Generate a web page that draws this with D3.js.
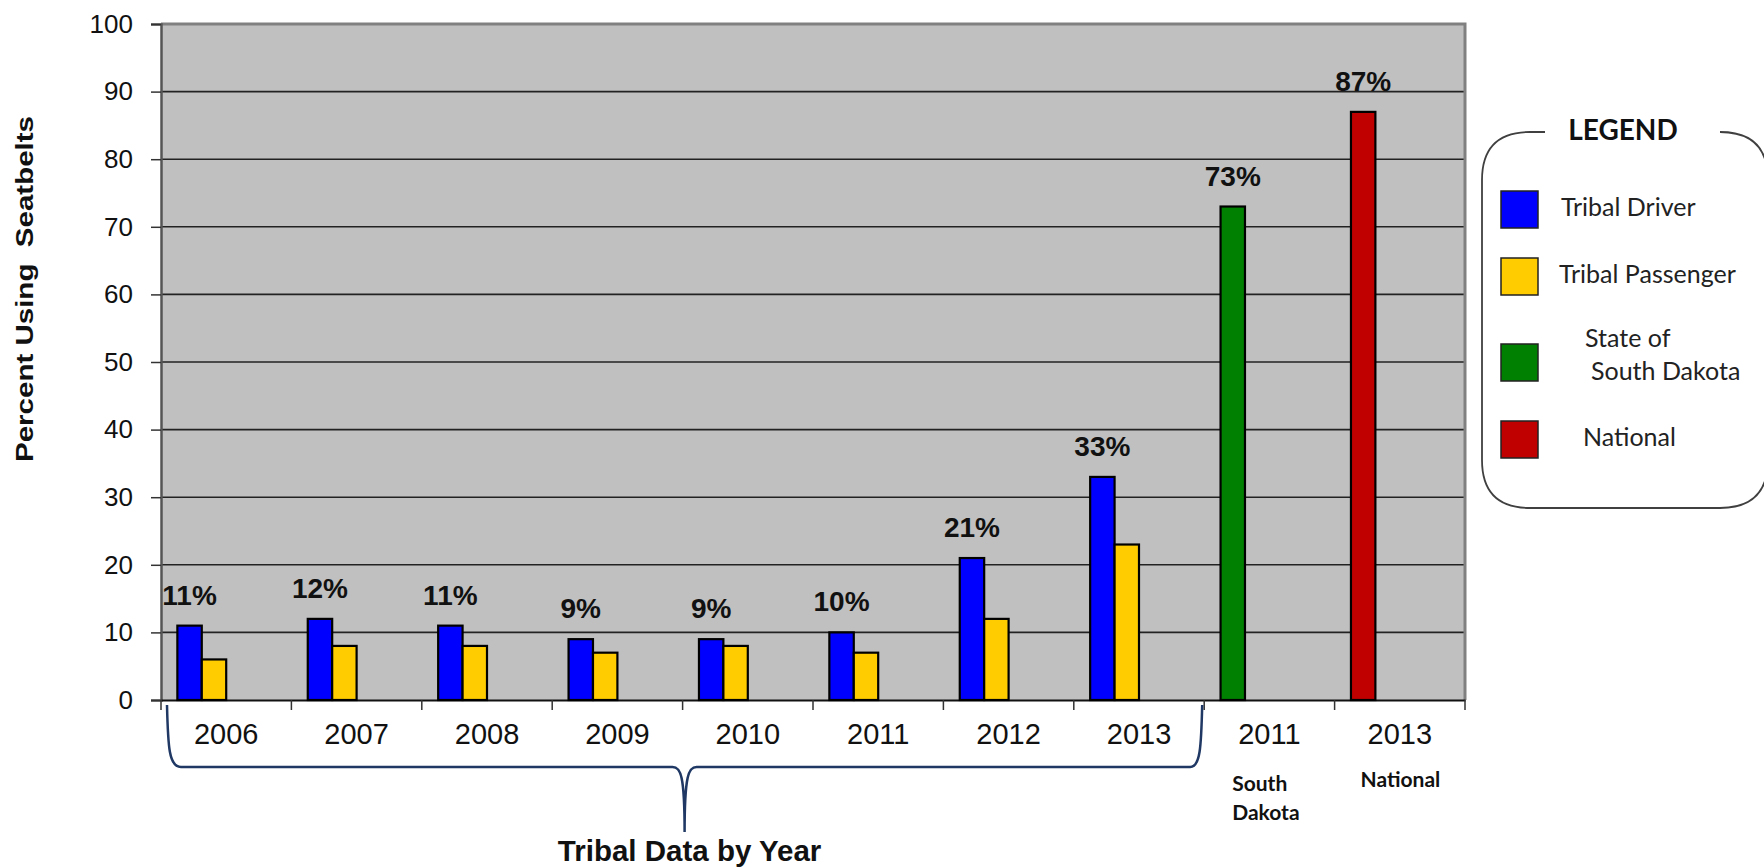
<!DOCTYPE html>
<html>
<head>
<meta charset="utf-8">
<script src="https://cdn.jsdelivr.net/npm/d3@7"></script>
<style>
  body { margin: 0; background: #fff; }
  svg { display: block; }
</style>
</head>
<body>
<div id="chart-container"></div>
<script>
// chart values
const years = ["2006", "2007", "2008", "2009", "2010", "2011", "2012", "2013", "2011", "2013"];
const groupNotes = ["", "", "", "", "", "", "", "", "South|Dakota", "National"];
const tribalDriver = [11, 12, 11, 9, 9, 10, 21, 33, null, null];
const tribalPassenger = [6, 8, 8, 7, 8, 7, 12, 23, null, null];
const stateSouthDakota = [null, null, null, null, null, null, null, null, 73, null];
const national = [null, null, null, null, null, null, null, null, null, 87];
const yTicks = [0, 10, 20, 30, 40, 50, 60, 70, 80, 90, 100];
const legendItems = ["Tribal Driver", "Tribal Passenger", "State of|South Dakota", "National"];
const colors = ["#0000ff", "#ffcc00", "#008000", "#c00000"];

const width = 1764, height = 867;
const margin = {top: 24, left: 161, right: 299, bottom: 167};

const svg = d3.select('#chart-container').append('svg')
    .attr('width', width)
    .attr('height', height);

const xScale = d3.scaleBand()
    .domain(d3.range(years.length))
    .range([margin.left, width - margin.right])
    .padding(0);

// slot inside each category (4 slots like the excel cluster)
const slot = d3.scaleBand()
    .domain(['a', 'b', 'c', 'd'])
    .range([0, xScale.bandwidth()])
    .paddingInner(0)
    .paddingOuter(0.67);

const yScale = d3.scaleLinear()
    .domain([0, 100])
    .range([height - margin.bottom, margin.top]);

const plotL = margin.left, plotR = width - margin.right;
const plotT = margin.top, plotB = height - margin.bottom;

// plot background
svg.append('rect')
    .attr('x', plotL).attr('y', plotT)
    .attr('width', plotR - plotL).attr('height', plotB - plotT)
    .style('fill', '#c0c0c0');

// gridlines
svg.append('g')
    .selectAll('line')
    .data(yTicks.filter(d => d > 0 && d < 100))
    .enter()
    .append('line')
    .attr('x1', plotL).attr('x2', plotR)
    .attr('y1', d => yScale(d)).attr('y2', d => yScale(d))
    .style('stroke', '#222')
    .style('stroke-width', 1.6);

// plot frame (top + right grey)
svg.append('polyline')
    .attr('points', [plotL, plotT, plotR, plotT, plotR, plotB].join(','))
    .style('fill', 'none')
    .style('stroke', '#808080')
    .style('stroke-width', 3);

// y axis
const yAxis = d3.axisLeft(yScale).tickValues(yTicks).tickSize(10).tickPadding(18);
const gy = svg.append('g').attr('transform', `translate(${plotL},0)`).call(yAxis);
gy.select('.domain').style('stroke', '#555').style('stroke-width', 2.5);
gy.selectAll('.tick line').style('stroke', '#333').style('stroke-width', 1.5);
gy.selectAll('.tick text')
    .style('font-family', 'Liberation Sans, Arial, sans-serif')
    .style('font-size', '26px')
    .style('fill', '#111');

// x axis
const xAxis = d3.axisBottom(xScale).tickFormat(i => years[i]).tickSize(0).tickPadding(23);
const gx = svg.append('g').attr('transform', `translate(0,${plotB})`).call(xAxis);
gx.select('.domain').style('stroke', '#111').style('stroke-width', 2);
gx.selectAll('.tick text')
    .style('font-family', 'Liberation Sans, Arial, sans-serif')
    .style('font-size', '29px')
    .style('fill', '#111');

// tick marks at category boundaries
svg.append('g')
    .selectAll('line')
    .data(d3.range(years.length + 1))
    .enter()
    .append('line')
    .attr('x1', i => plotL + i * xScale.step())
    .attr('x2', i => plotL + i * xScale.step())
    .attr('y1', plotB).attr('y2', plotB + 10)
    .style('stroke', '#333')
    .style('stroke-width', 1.5);

// bars
const barSeries = [
    {values: tribalDriver, slot: 'a', color: colors[0], label: true},
    {values: tribalPassenger, slot: 'b', color: colors[1], label: false},
    {values: stateSouthDakota, slot: 'a', color: colors[2], label: true},
    {values: national, slot: 'a', color: colors[3], label: true}
];

const rectangleData = barSeries.flatMap(s =>
    s.values.map((v, i) => ({
        v, i,
        x: xScale(i) + slot(s.slot),
        w: slot.bandwidth(),
        color: s.color,
        label: s.label
    })).filter(d => d.v !== null)
);

const bars = svg.append('g');
bars.selectAll('rect')
    .data(rectangleData)
    .enter()
    .append('rect')
    .attr('x', d => d.x)
    .attr('y', d => yScale(d.v))
    .attr('width', d => d.w)
    .attr('height', d => yScale(0) - yScale(d.v))
    .style('fill', d => d.color)
    .style('stroke', '#000')
    .style('stroke-width', 2.2);

bars.selectAll('text')
    .data(rectangleData.filter(d => d.label))
    .enter()
    .append('text')
    .text(d => d.v + '%')
    .attr('x', d => d.x + d.w / 2)
    .attr('y', d => yScale(d.v) - 21)
    .attr('text-anchor', 'middle')
    .style('font-family', 'Liberation Sans, Arial, sans-serif')
    .style('font-weight', 'bold')
    .style('font-size', '28px')
    .style('fill', '#111');

// notes under last two categories
const notes = svg.append('g');
groupNotes.forEach((n, i) => {
    if (!n) return;
    const lines = n.split('|');
    const x0 = xScale(i) + (lines.length > 1 ? 28 : 26);
    const t = notes.append('text')
        .attr('y', lines.length > 1 ? 791 : 787)
        .style('font-family', 'Lato, "Open Sans", sans-serif')
        .style('font-weight', 'bold')
        .style('font-size', '21px')
        .style('fill', '#111');
    lines.forEach((l, k) => {
        t.append('tspan').attr('x', x0).attr('dy', k === 0 ? 0 : 29).text(l);
    });
});

// brace under the tribal years
const bL = xScale(0) + 6;
const bR = xScale(7) + xScale.bandwidth() - 2;
const bM = (bL + bR) / 2;
const bTop = plotB + 5, bY = 767, bTip = 832;
svg.append('path')
    .attr('d', `M${bL},${bTop} C${bL + 1},${bY - 20} ${bL + 2},${bY} ${bL + 14},${bY}`
        + ` L${bM - 12},${bY} C${bM - 4},${bY} ${bM},${bY + 8} ${bM},${bTip}`
        + ` C${bM},${bY + 8} ${bM + 4},${bY} ${bM + 12},${bY}`
        + ` L${bR - 12},${bY} C${bR - 2},${bY} ${bR - 1},${bY - 20} ${bR},${bTop}`)
    .style('fill', 'none')
    .style('stroke', '#1f3864')
    .style('stroke-width', 2.5);

svg.append('text')
    .text('Tribal Data by Year')
    .attr('x', bM + 5)
    .attr('y', 861)
    .attr('text-anchor', 'middle')
    .style('font-family', 'Liberation Sans, Arial, sans-serif')
    .style('font-weight', 'bold')
    .style('font-size', '29.5px')
    .style('fill', '#111');

// y axis title (stretched along its length, as in the original)
svg.append('text')
    .text('Percent Using  Seatbelts')
    .attr('transform', `translate(33,289) rotate(-90)`)
    .attr('text-anchor', 'middle')
    .attr('textLength', 346)
    .attr('lengthAdjust', 'spacingAndGlyphs')
    .style('white-space', 'pre')
    .style('font-family', 'Liberation Sans, Arial, sans-serif')
    .style('font-weight', 'bold')
    .style('font-size', '23px')
    .style('fill', '#111');

// legend
const lg = svg.append('g');
const boxL = 1482, boxT = 132, boxR = 1768, boxB = 508, rr = 48;
const gapL = 1545, gapR = 1720;
lg.append('path')
    .attr('d', `M${gapL},${boxT} L${boxL + rr},${boxT} Q${boxL},${boxT} ${boxL},${boxT + rr}`
        + ` L${boxL},${boxB - rr} Q${boxL},${boxB} ${boxL + rr},${boxB}`
        + ` L${boxR - rr},${boxB} Q${boxR},${boxB} ${boxR},${boxB - rr}`
        + ` L${boxR},${boxT + rr} Q${boxR},${boxT} ${boxR - rr},${boxT} L${gapR},${boxT}`)
    .style('fill', '#fff')
    .style('stroke', '#404040')
    .style('stroke-width', 1.8);

lg.append('text')
    .text('LEGEND')
    .attr('x', 1623).attr('y', 140)
    .attr('text-anchor', 'middle')
    .style('font-family', 'Lato, "Open Sans", sans-serif')
    .style('font-weight', 'bold')
    .style('font-size', '28px')
    .style('fill', '#111');

const swatchY = [191, 258, 344, 421];
const textX = [1561, 1559, 1585, 1583];
const textY = [216, 283, 347, 446];
legendItems.forEach((name, i) => {
    lg.append('rect')
        .attr('x', 1501).attr('y', swatchY[i])
        .attr('width', 37).attr('height', 37)
        .style('fill', colors[i])
        .style('stroke', '#222')
        .style('stroke-width', 1.5);
    const lines = name.split('|');
    const t = lg.append('text')
        .attr('y', textY[i])
        .style('font-family', 'Lato, "Open Sans", sans-serif')
        .style('font-size', '25px')
        .style('fill', '#222');
    lines.forEach((l, k) => {
        t.append('tspan').attr('x', textX[i] + k * 6).attr('dy', k === 0 ? 0 : 33).text(l);
    });
});
</script>
</body>
</html>
